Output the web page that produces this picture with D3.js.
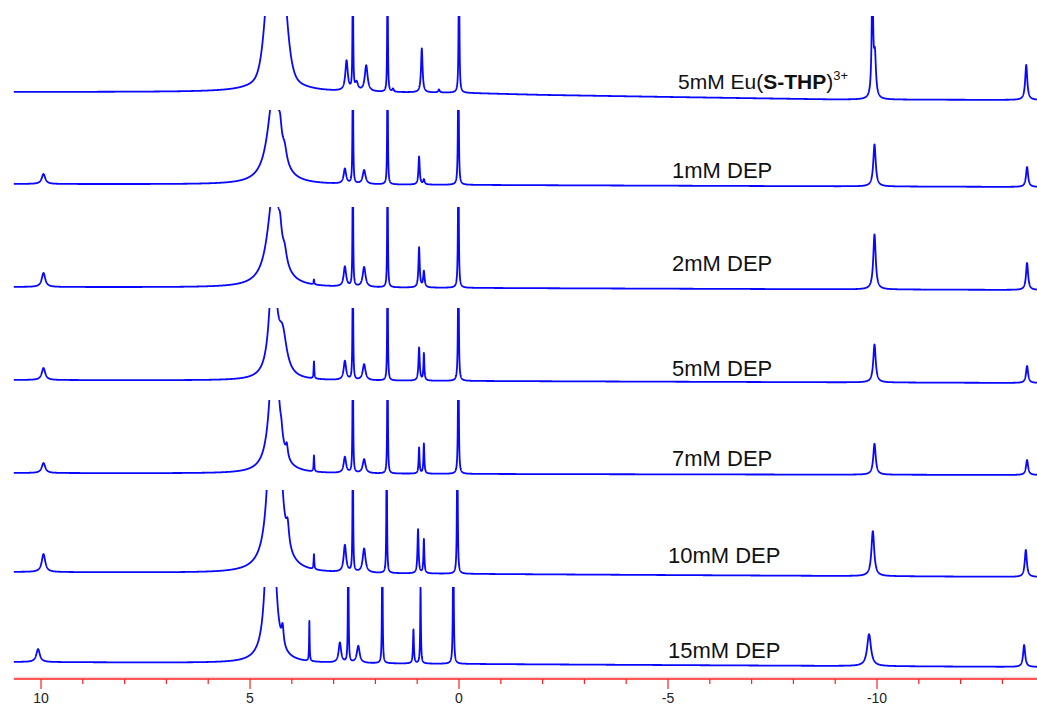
<!DOCTYPE html>
<html><head><meta charset="utf-8">
<script src="https://cdn.jsdelivr.net/npm/d3@7"></script>
<style>html,body{margin:0;padding:0;background:#fff}svg{display:block}</style>
</head><body>
<svg id="chart" width="1037" height="705"></svg>
<script>
// ---------------- DATA ----------------
// chemical shift axis (ppm)
const majorTicks = [10, 5, 0, -5, -10];
const minorTicks = [10, 9, 8, 7, 6, 5, 4, 3, 2, 1, 0, -1, -2, -3, -4, -5, -6, -7, -8, -9, -10, -11, -12, -13];
const ppmRange = [10.65, -13.83];

const sampleLabels = ["5mM Eu(S-THP)3+", "1mM DEP", "2mM DEP", "5mM DEP", "7mM DEP", "10mM DEP", "15mM DEP"];

// peaks: [shift ppm, intensity, half-width ppm, lineshape]
const peaks0 = [
  [4.38, 173, 0.169, "G"], [4.38, 45, 0.30, "L"],
  [2.69, 30, 0.035, "L"], [2.54, 160, 0.008, "L"], [2.45, 8, 0.04, "L"],
  [2.22, 26, 0.040, "L"], [1.71, 160, 0.008, "L"], [1.58, 3, 0.02, "L"],
  [0.89, 44, 0.022, "L"], [0.48, 3, 0.02, "L"], [0.00, 160, 0.010, "L"],
  [-9.89, 120, 0.020, "L"], [-9.95, 40, 0.030, "L"], [-13.57, 35, 0.030, "L"]
];
const peaks1 = [
  [9.94, 10, 0.05, "L"],
  [4.43, 94, 0.172, "L"], [4.28, 15, 0.04, "L"], [4.17, 12, 0.06, "L"],
  [2.73, 15, 0.035, "L"], [2.54, 160, 0.008, "L"], [2.27, 14, 0.040, "L"],
  [1.71, 160, 0.008, "L"], [0.955, 28, 0.018, "L"], [0.84, 5, 0.02, "L"],
  [0.015, 160, 0.010, "L"], [-9.94, 42, 0.035, "L"], [-13.59, 20, 0.030, "L"]
];
const peaks2 = [
  [9.94, 14, 0.05, "L"],
  [4.43, 100, 0.172, "L"], [4.28, 15, 0.04, "L"], [4.17, 12, 0.06, "L"],
  [3.47, 5, 0.010, "L"],
  [2.73, 20, 0.035, "L"], [2.54, 160, 0.008, "L"], [2.27, 20, 0.040, "L"],
  [1.71, 160, 0.008, "L"], [0.955, 40, 0.018, "L"], [0.84, 16, 0.02, "L"],
  [0.015, 160, 0.010, "L"], [-9.94, 55, 0.035, "L"], [-13.59, 27, 0.030, "L"]
];
const peaks3 = [
  [9.94, 12, 0.05, "L"],
  [4.45, 120, 0.097, "L"], [4.22, 38, 0.12, "L"],
  [3.47, 17, 0.010, "L"],
  [2.73, 19, 0.035, "L"], [2.54, 160, 0.008, "L"], [2.27, 16, 0.040, "L"],
  [1.71, 160, 0.008, "L"], [0.955, 33, 0.018, "L"], [0.84, 27, 0.013, "L"],
  [0.015, 160, 0.010, "L"], [-9.94, 38, 0.035, "L"], [-13.59, 17, 0.030, "L"]
];
const peaks4 = [
  [9.94, 10, 0.05, "L"],
  [4.42, 158, 0.11, "L"], [4.25, 8, 0.03, "L"], [4.12, 12, 0.03, "L"],
  [3.47, 16, 0.010, "L"],
  [2.73, 16, 0.035, "L"], [2.54, 160, 0.008, "L"], [2.27, 14, 0.040, "L"],
  [1.71, 160, 0.008, "L"], [0.955, 26, 0.013, "L"], [0.84, 30, 0.013, "L"],
  [0.015, 160, 0.010, "L"], [-9.94, 31, 0.035, "L"], [-13.59, 15, 0.030, "L"]
];
const peaks5 = [
  [9.94, 18, 0.05, "L"],
  [4.41, 560, 0.08, "L"], [4.10, 20, 0.04, "L"],
  [3.47, 15, 0.010, "L"],
  [2.73, 27, 0.035, "L"], [2.54, 160, 0.008, "L"], [2.27, 24, 0.040, "L"],
  [1.73, 160, 0.008, "L"], [0.98, 44, 0.016, "L"], [0.84, 34, 0.013, "L"],
  [0.04, 160, 0.010, "L"], [-9.90, 45, 0.040, "L"], [-13.56, 27, 0.030, "L"]
];
const peaks6 = [
  [10.07, 13, 0.05, "L"],
  [4.51, 399, 0.07, "L"], [4.22, 18, 0.03, "L"],
  [3.58, 40, 0.008, "L"],
  [2.85, 20, 0.035, "L"], [2.65, 160, 0.008, "L"], [2.41, 17, 0.040, "L"],
  [1.835, 160, 0.008, "L"], [1.09, 34, 0.013, "L"], [0.92, 76, 0.010, "L"],
  [0.136, 160, 0.010, "L"], [-9.81, 32, 0.055, "L"], [-13.52, 22, 0.030, "L"]
];
// baseline offsets: [shift ppm, intensity]
const drift0 = [[10.65, 8], [5, 8], [0, 7], [-2, 5], [-5, 3], [-9, 0.5], [-13.83, 0]];
const drift1 = [[10.65, 3], [0, 2], [-13.83, 0]];
const drift2 = [[10.65, 3], [0, 2], [-13.83, 0]];
const drift3 = [[10.65, 3], [0, 2], [-13.83, 0]];
const drift4 = [[10.65, 2], [0, 1], [-13.83, 0]];
const drift5 = [[10.65, 5], [0, 3], [-13.83, 0]];
const drift6 = [[10.65, 5], [0, 3], [-13.83, 0]];

const spectra = [
  {label: sampleLabels[0], peaks: peaks0, drift: drift0},
  {label: sampleLabels[1], peaks: peaks1, drift: drift1},
  {label: sampleLabels[2], peaks: peaks2, drift: drift2},
  {label: sampleLabels[3], peaks: peaks3, drift: drift3},
  {label: sampleLabels[4], peaks: peaks4, drift: drift4},
  {label: sampleLabels[5], peaks: peaks5, drift: drift5},
  {label: sampleLabels[6], peaks: peaks6, drift: drift6}
];

// ---------------- LAYOUT ----------------
const W = 1037, H = 705;
const baseY = [100, 187, 290, 383, 475, 577, 667];   // zero-intensity line of each trace
const clipY = [16, 110, 207, 308, 400, 490, 587];    // upper edge of each trace's strip
const labelPos = [[678, 89], [672, 178], [672, 271], [672, 376], [672, 466], [668, 563], [668, 658]];
const axisY = 679;

const svg = d3.select("#chart");
const x = d3.scaleLinear().domain([10, -10]).range([41, 877]);

function lineshape(p, v) {
  const d = v - p[0];
  if (p[3] === "G") return p[1] * Math.exp(-d * d / (2 * p[2] * p[2]));
  return p[1] * p[2] * p[2] / (p[2] * p[2] + d * d);
}

const defs = svg.append("defs");

spectra.forEach((s, i) => {
  const y = d3.scaleLinear().domain([0, 100]).range([baseY[i], baseY[i] - 100]);
  const driftScale = d3.scaleLinear().domain(s.drift.map(d => d[0])).range(s.drift.map(d => d[1]));
  let grid = d3.range(ppmRange[0], ppmRange[1], -0.003);
  s.peaks.forEach(p => { grid.push(p[0]); grid.push(p[0] + p[2] * 0.5); grid.push(p[0] - p[2] * 0.5); });
  grid.sort((a, b) => b - a);
  const pts = grid.map(v => ({ppm: v, val: driftScale(v) + d3.sum(s.peaks, p => lineshape(p, v))}));
  defs.append("clipPath").attr("id", "clip" + i)
    .append("rect").attr("x", 10).attr("y", clipY[i]).attr("width", W - 10).attr("height", H - clipY[i]);
  svg.append("path")
    .datum(pts)
    .attr("clip-path", "url(#clip" + i + ")")
    .attr("fill", "none")
    .attr("stroke", "#0808ff")
    .attr("stroke-width", 1.8)
    .attr("stroke-linejoin", "round")
    .attr("d", d3.line().x(d => x(d.ppm)).y(d => Math.max(clipY[i] - 5, y(d.val))));
});

// labels
spectra.forEach((s, i) => {
  const t = svg.append("text")
    .attr("x", labelPos[i][0]).attr("y", labelPos[i][1])
    .attr("font-family", "'Liberation Sans', Arial, sans-serif")
    .attr("font-size", i === 0 ? 21 : 22).attr("fill", "#111");
  if (i === 0) {
    t.append("tspan").text("5mM Eu(");
    t.append("tspan").attr("font-weight", "bold").text("S-THP");
    t.append("tspan").text(")");
    t.append("tspan").attr("font-size", 13).attr("dy", -9).text("3+");
  } else {
    t.text(s.label);
  }
});

// axis
const axisG = svg.append("g");
axisG.append("line").attr("x1", 14).attr("x2", W).attr("y1", axisY - 1.5).attr("y2", axisY - 1.5)
  .attr("stroke", "#ffd0d0").attr("stroke-width", 1.5);
axisG.append("line").attr("x1", 14).attr("x2", W).attr("y1", axisY).attr("y2", axisY)
  .attr("stroke", "#ff2020").attr("stroke-width", 1.3);
axisG.selectAll("line.minor").data(minorTicks).enter().append("line")
  .attr("class", "minor")
  .attr("x1", d => x(d)).attr("x2", d => x(d))
  .attr("y1", axisY).attr("y2", d => majorTicks.includes(d) ? axisY + 10 : axisY + 5)
  .attr("stroke", "#ff2020").attr("stroke-width", 1.2);
axisG.selectAll("text").data(majorTicks).enter().append("text")
  .attr("x", d => x(d)).attr("y", axisY + 24)
  .attr("text-anchor", "middle")
  .attr("font-family", "'Liberation Sans', Arial, sans-serif")
  .attr("font-size", 14).attr("fill", "#222")
  .text(d => d);
</script>
</body></html>
